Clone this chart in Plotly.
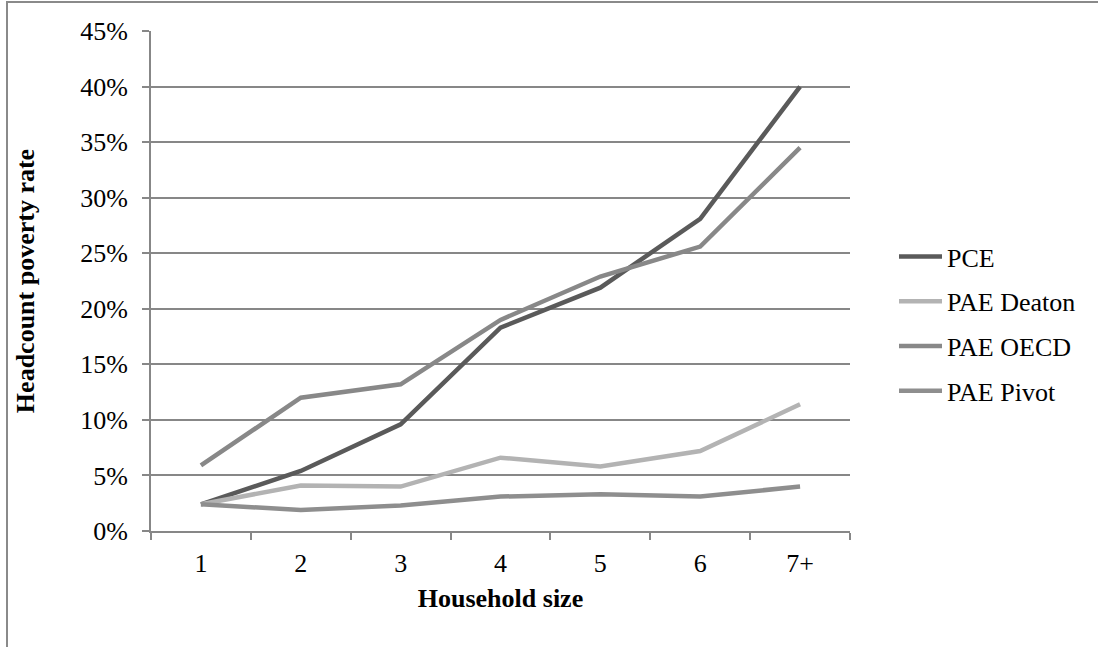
import plotly.graph_objects as go

# Household size categories and headcount poverty rates (fractions)
household_size = ["1", "2", "3", "4", "5", "6", "7+"]
pce = [0.024, 0.054, 0.096, 0.183, 0.219, 0.281, 0.400]
pae_deaton = [0.024, 0.041, 0.040, 0.066, 0.058, 0.072, 0.114]
pae_oecd = [0.059, 0.120, 0.132, 0.190, 0.229, 0.256, 0.345]
pae_pivot = [0.024, 0.019, 0.023, 0.031, 0.033, 0.031, 0.040]

y_ticks = [0.00, 0.05, 0.10, 0.15, 0.20, 0.25, 0.30, 0.35, 0.40, 0.45]

series = [
    ("PCE", pce, "#5a5a5a"),
    ("PAE Deaton", pae_deaton, "#b3b3b3"),
    ("PAE OECD", pae_oecd, "#888888"),
    ("PAE Pivot", pae_pivot, "#8e8e8e"),
]

FONT = "Liberation Serif, Times New Roman, serif"
GRID = "#878787"

fig = go.Figure()
for i, (name, vals, color) in enumerate(series):
    fig.add_trace(go.Scatter(
        x=household_size, y=vals, name=name, mode="lines",
        line=dict(color=color, width=4.5),
        legendgroup=f"g{i}",
    ))

W, H = 1098, 647
L, R, T, B = 151, 248, 31, 116
pw, ph = W - L - R, H - T - B

# outer chart border (left and top edges fall inside the page)
fig.add_shape(type="rect", xref="paper", yref="paper",
              x0=(7 - L) / pw, x1=(W + 20 - L) / pw,
              y0=-(B + 20) / ph, y1=(H - B - 2) / ph,
              line=dict(color="#8a8a8a", width=2), fillcolor="rgba(0,0,0,0)",
              layer="below")

fig.update_layout(
    width=W, height=H,
    margin=dict(l=L, r=R, t=T, b=B, autoexpand=False),
    paper_bgcolor="white", plot_bgcolor="white",
    font=dict(family=FONT, size=26, color="black"),
    showlegend=True,
    legend=dict(
        x=(894 - L) / pw, xanchor="left",
        y=(H - B - 233) / ph, yanchor="top",
        font=dict(family=FONT, size=26, color="black"),
        traceorder="grouped", tracegroupgap=8,
        itemwidth=43, bgcolor="rgba(0,0,0,0)",
    ),
    xaxis=dict(
        type="category",
        range=[-0.5, len(household_size) - 0.5],
        showgrid=False,
        showline=True, linecolor=GRID, linewidth=2,
        ticks="outside", ticklen=7, tickwidth=2, tickcolor=GRID,
        tickson="boundaries",
        ticklabelstandoff=8,
        tickfont=dict(family=FONT, size=26, color="black"),
        title=dict(text="<b>Household size</b>", standoff=12,
                   font=dict(family=FONT, size=26, color="black")),
    ),
    yaxis=dict(
        range=[0, 0.45],
        tickvals=y_ticks,
        tickformat=".0%",
        showgrid=True, gridcolor=GRID, gridwidth=2,
        zeroline=False,
        showline=True, linecolor=GRID, linewidth=2,
        ticks="outside", ticklen=7, tickwidth=2, tickcolor=GRID,
        ticklabelstandoff=9,
        tickfont=dict(family=FONT, size=26, color="black"),
        title=dict(text="<b>Headcount poverty rate</b>", standoff=38,
                   font=dict(family=FONT, size=26, color="black")),
    ),
)

fig.write_html("out.html")
